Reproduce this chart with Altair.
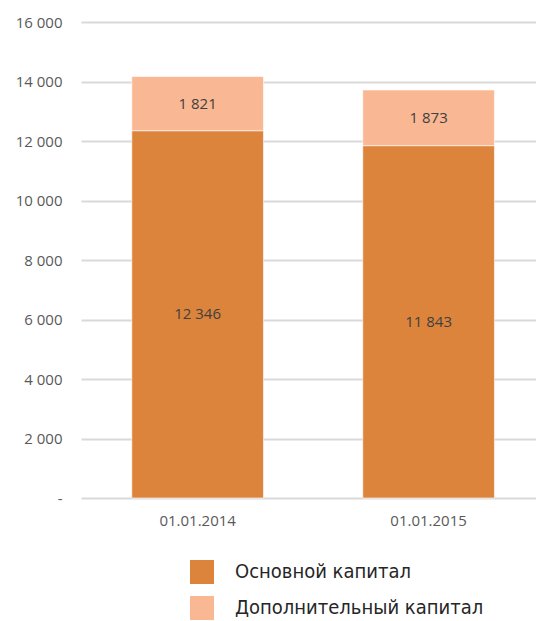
import altair as alt
import pandas as pd

# Capital structure by reporting date
dates = ["01.01.2014", "01.01.2015"]
core_capital = [12346, 11843]
additional_capital = [1821, 1873]
series_names = ["Основной капитал", "Дополнительный капитал"]
colors = ["#DC843C", "#FAB793"]
y_ticks = [0, 2000, 4000, 6000, 8000, 10000, 12000, 14000, 16000]

rows = []
for i, d in enumerate(dates):
    rows.append({"date": d, "series": series_names[0], "value": core_capital[i], "ord": 0})
    rows.append({"date": d, "series": series_names[1], "value": additional_capital[i], "ord": 1})
df = pd.DataFrame(rows)

x_enc = alt.X(
    "date:N",
    title=None,
    sort=dates,
    scale=alt.Scale(paddingInner=0.43, paddingOuter=0.2, align=0.55),
    axis=alt.Axis(
        labelAngle=0, labelFontSize=15, labelColor="#595959", labelFont="Open Sans",
        ticks=False, domain=False, labelPadding=15, grid=False,
    ),
)

y_scale = alt.Scale(domain=[0, 16000], nice=False)
y_axis = alt.Axis(
    values=y_ticks,
    labelExpr="datum.value == 0 ? '-' : replace(format(datum.value, ','), ',', ' ')",
    labelFontSize=15, labelColor="#595959", labelFont="Open Sans",
    ticks=False, domain=False, labelPadding=19,
    gridColor="#D9D9D9", gridWidth=2,
)

base = alt.Chart(df).encode(x=x_enc)

bars = base.mark_bar(stroke="#FFFFFF", strokeWidth=1, strokeOpacity=0.6).encode(
    y=alt.Y("sum(value):Q", title=None, stack="zero", scale=y_scale, axis=y_axis),
    color=alt.Color(
        "series:N",
        sort=series_names,
        scale=alt.Scale(domain=series_names, range=colors),
        legend=alt.Legend(
            title=None, orient="none", legendX=109, legendY=538, direction="vertical",
            symbolType="square", symbolSize=576, symbolStrokeWidth=0,
            labelFontSize=20, labelFont="DejaVu Sans Condensed", labelColor="#262626",
            labelOffset=21, rowPadding=12, symbolOpacity=1, labelLimit=400,
        ),
    ),
    order=alt.Order("ord:Q", sort="ascending"),
)

labels = base.transform_stack(
    stack="value", groupby=["date"], as_=["v0", "v1"], sort=[alt.SortField("ord", order="ascending")]
).transform_calculate(
    mid="(datum.v0 + datum.v1) / 2",
    txt="replace(format(datum.value, ','), ',', ' ')",
).mark_text(fontSize=15, font="Open Sans", color="#404040").encode(
    y=alt.Y("mid:Q", title=None, scale=y_scale, axis=y_axis),
    text="txt:N",
)

chart = (
    alt.layer(bars, labels)
    .properties(
        width=455,
        height=476,
        background="white",
        autosize=alt.AutoSizeParams(type="none"),
        padding={"left": 81, "top": 22, "right": 0, "bottom": 123},
    )
    .configure_view(strokeWidth=0)
)

chart.save("out.html", embed_options={"renderer": "svg", "actions": False})
